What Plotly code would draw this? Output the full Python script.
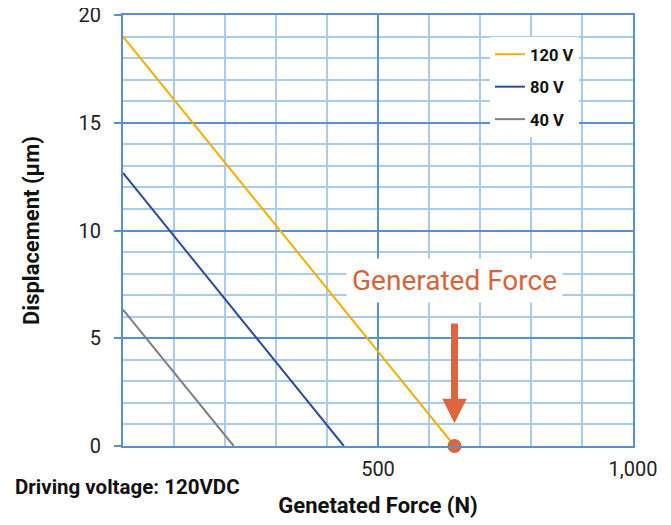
import plotly.graph_objects as go

# Data
voltages = ["120 V", "80 V", "40 V"]
force_max = [650, 433, 217]          # N at zero displacement
disp_max = [19.0, 12.67, 6.33]       # um at zero force
colors = ["#F2B000", "#2F4B9E", "#808080"]

x_tickvals = [500, 1000]
x_ticktext = ["500", "1,000"]
y_tickvals = [0, 5, 10, 15, 20]

gen_force = 650

FONT = "Roboto"
MAJOR = "#5A8FD4"
MINOR = "#A8CBEE"

# page has an 8px body margin; compensate so plot area sits at page x 123..633, y 15..446
OFF = 8
W, H = 671, 525
L, T = 123 - OFF, 15 - OFF
R = W - (633 - OFF)
B = H - (446 - OFF)
plot_w = W - L - R
plot_h = H - T - B


def px_x(px):
    return (px - OFF - L) / plot_w


def px_y(py):
    return 1 - (py - OFF - T) / plot_h


fig = go.Figure()
for i, (v, fm, dm, c) in enumerate(zip(voltages, force_max, disp_max, colors)):
    fig.add_trace(go.Scatter(
        x=[0, fm], y=[dm, 0], mode="lines", name="<b>" + v + "</b>",
        line=dict(color=c, width=2), legendgroup=str(i),
    ))

fig.add_trace(go.Scatter(
    x=[gen_force], y=[0], mode="markers", showlegend=False,
    marker=dict(color="#DC6640", size=14), cliponaxis=False,
))

fig.update_layout(
    width=W, height=H,
    margin=dict(l=L, r=R, t=T, b=B),
    paper_bgcolor="white", plot_bgcolor="white",
    font=dict(family=FONT, color="#1a1a1a"),
    showlegend=True,
    legend=dict(
        x=px_x(490), y=px_y(37), xanchor="left", yanchor="top",
        bgcolor="white", font=dict(family=FONT, size=16.5, color="#111"),
        tracegroupgap=8,
    ),
    xaxis=dict(
        range=[0, 1000], tickvals=x_tickvals, ticktext=x_ticktext,
        automargin=False, ticklabeloverflow="allow",
        showgrid=True, gridcolor=MAJOR, gridwidth=2,
        minor=dict(dtick=100, showgrid=True, gridcolor=MINOR, gridwidth=1.5),
        showline=True, linecolor=MAJOR, linewidth=2, mirror=True,
        zeroline=False, ticks="", ticklen=0, ticklabelstandoff=4,
        tickfont=dict(size=20, color="#222"),
        title=dict(text="<b>Genetated Force (N)</b>", font=dict(size=22, color="#111"), standoff=18),
    ),
    yaxis=dict(
        range=[0, 20], tickvals=y_tickvals,
        automargin=False, ticklabeloverflow="allow",
        showgrid=True, gridcolor=MAJOR, gridwidth=2,
        minor=dict(dtick=1, showgrid=True, gridcolor=MINOR, gridwidth=2),
        showline=True, linecolor=MAJOR, linewidth=2, mirror=True,
        zeroline=False, ticks="outside", ticklen=7, tickcolor=MAJOR, tickwidth=2,
        ticklabelstandoff=9,
        tickfont=dict(size=20, color="#222"),
        title=dict(text="<b>Displacement (μm)</b>", font=dict(size=22, color="#111"), standoff=33),
    ),
)

# Arrow
fig.add_annotation(
    x=gen_force, y=1.05, ax=gen_force, ay=5.75, axref="x", ayref="y",
    xref="x", yref="y", text="", showarrow=True,
    arrowhead=2, arrowsize=0.7, arrowwidth=7, arrowcolor="#DC6640",
)
# Label
fig.add_annotation(
    x=gen_force, y=7.7, xref="x", yref="y", text="Generated Force",
    showarrow=False, font=dict(family=FONT, size=28, color="#D9643C"),
    bgcolor="white", borderpad=5,
)
# Driving voltage note
fig.add_annotation(
    x=px_x(13), y=px_y(487), xref="paper", yref="paper",
    text="<b>Driving voltage: 120VDC</b>",
    showarrow=False, font=dict(family=FONT, size=20.5, color="#111"),
    xanchor="left", yanchor="middle",
)

fig.write_html("out.html")
